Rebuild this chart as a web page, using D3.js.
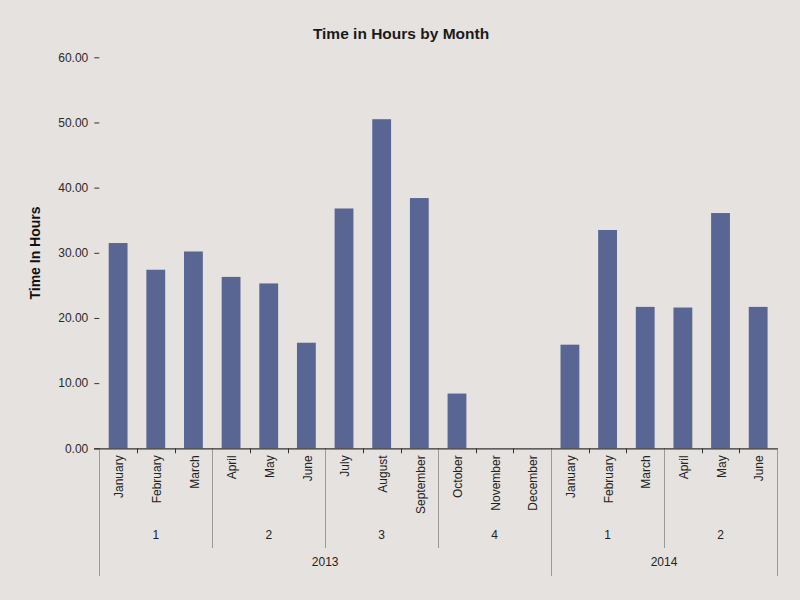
<!DOCTYPE html>
<html>
<head>
<meta charset="utf-8">
<script src="https://cdn.jsdelivr.net/npm/d3@7/dist/d3.min.js"></script>
<style>
  html, body { margin: 0; padding: 0; background: #e6e2df; }
  svg { display: block; font-family: "Liberation Sans", Arial, sans-serif; }
</style>
</head>
<body>
<svg id="chart" width="800" height="600"></svg>
<script>
const months = ["January","February","March","April","May","June","July","August","September","October","November","December",
                "January","February","March","April","May","June"];
const quarters = [1,1,1,2,2,2,3,3,3,4,4,4,1,1,1,2,2,2];
const years = [2013,2013,2013,2013,2013,2013,2013,2013,2013,2013,2013,2013,2014,2014,2014,2014,2014,2014];
const hours = [31.5,27.4,30.2,26.3,25.3,16.2,36.8,50.5,38.4,8.4,0,0,15.9,33.5,21.7,21.6,36.1,21.7];
const yTicks = [0,10,20,30,40,50,60];

const svg = d3.select("#chart");
svg.append("rect").attr("width",800).attr("height",600).attr("fill","#e6e2df");

const mLeft = 99.3, mRight = 777, mTop = 57.3, mBottom = 448.3;
const idx = d3.range(months.length);
const x = d3.scaleBand().domain(idx).range([mLeft, mRight]).padding(0);
const y = d3.scaleLinear().domain([0,60]).range([mBottom, mTop]);
const bw = x.bandwidth();

// title
svg.append("text").attr("x",401).attr("y",39).attr("text-anchor","middle")
  .attr("font-size","15.5px").attr("font-weight","bold").attr("fill","#1a1a1a")
  .text("Time in Hours by Month");

// y axis title
svg.append("text").attr("transform","translate(40,253) rotate(-90)").attr("text-anchor","middle")
  .attr("font-size","14px").attr("font-weight","bold").attr("fill","#111")
  .text("Time In Hours");

// y axis (ticks only)
const yAxis = d3.axisLeft(y).tickValues(yTicks).tickFormat(d3.format(".2f")).tickSize(5).tickPadding(6);
const gy = svg.append("g").attr("transform",`translate(${mLeft},0)`).call(yAxis);
gy.select(".domain").remove();
gy.selectAll("line").attr("stroke","#333");
gy.selectAll("text").attr("font-size","12px").attr("fill","#2a2a2a").attr("font-family","Liberation Sans, Arial, sans-serif");

// bars
svg.append("g").selectAll("rect").data(idx).join("rect")
  .attr("x", i => x(i) + bw*0.25)
  .attr("width", bw*0.5)
  .attr("y", i => y(hours[i]))
  .attr("height", i => y(0) - y(hours[i]))
  .attr("fill", "#596694");

// x axis line
svg.append("line").attr("x1",94).attr("x2",mRight).attr("y1",mBottom+0.5).attr("y2",mBottom+0.5)
  .attr("stroke","#333").attr("stroke-width",1.3);

// month ticks at band boundaries
const bounds = d3.range(months.length+1).map(i => i < months.length ? x(i) : mRight);
svg.append("g").selectAll("line").data(bounds).join("line")
  .attr("x1", d => Math.round(d)+0.5).attr("x2", d => Math.round(d)+0.5)
  .attr("y1", mBottom).attr("y2", mBottom+5).attr("stroke","#333");

// quarter / year separators
const gsep = svg.append("g");
bounds.forEach((b,i) => {
  let len = 0;
  if (i === 0 || i === months.length || years[i] !== years[i-1]) len = 576;
  else if (quarters[i] !== quarters[i-1]) len = 548;
  if (len) gsep.append("line").attr("x1",Math.round(b)+0.5).attr("x2",Math.round(b)+0.5)
    .attr("y1",mBottom+1).attr("y2",len).attr("stroke","#999");
});

// month labels
svg.append("g").selectAll("text").data(idx).join("text")
  .attr("transform", i => `translate(${x(i)+bw/2+1},${mBottom+7}) rotate(-90)`)
  .attr("text-anchor","end").attr("dy","0.35em")
  .attr("font-size","12px").attr("fill","#222")
  .text(i => months[i]);

// quarter labels
const qGroups = [];
idx.forEach(i => {
  const key = years[i]+"-"+quarters[i];
  const last = qGroups[qGroups.length-1];
  if (last && last.key === key) last.end = i; else qGroups.push({key, q: quarters[i], start: i, end: i});
});
svg.append("g").selectAll("text").data(qGroups).join("text")
  .attr("x", g => (x(g.start) + x(g.end) + bw)/2)
  .attr("y", 539).attr("text-anchor","middle")
  .attr("font-size","12px").attr("fill","#222")
  .text(g => g.q);

// year labels
const yGroups = [];
idx.forEach(i => {
  const last = yGroups[yGroups.length-1];
  if (last && last.year === years[i]) last.end = i; else yGroups.push({year: years[i], start: i, end: i});
});
svg.append("g").selectAll("text").data(yGroups).join("text")
  .attr("x", g => (x(g.start) + x(g.end) + bw)/2)
  .attr("y", 566).attr("text-anchor","middle")
  .attr("font-size","12px").attr("fill","#222")
  .text(g => g.year);
</script>
</body>
</html>
